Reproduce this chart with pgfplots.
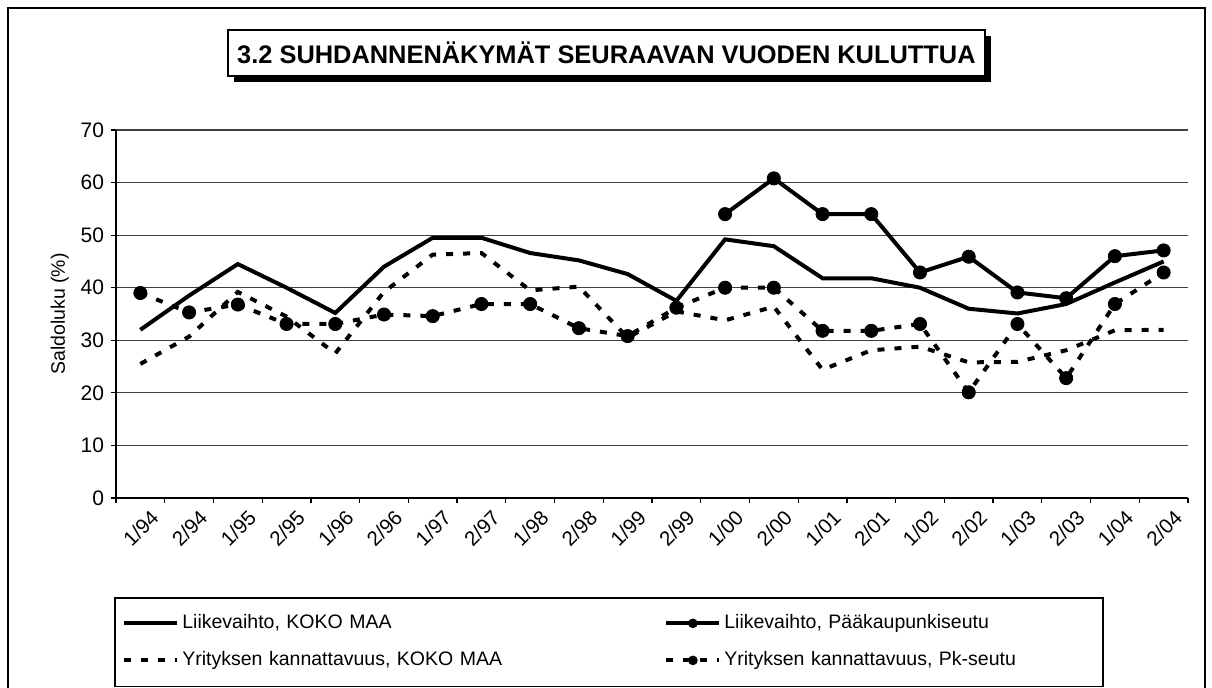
\documentclass[border=0pt]{standalone}
\usepackage{pgfplots}
\pgfplotsset{compat=1.18}
\usepackage{fontspec}
\setmainfont{Liberation Sans}

% 1 px of the reference = 0.5pt
\pgfplotstableread{
x  kokoliike pkliike kokokann pkkann
0  32.0  nan   25.5  39.0
1  38.5  nan   30.7  35.3
2  44.5  nan   39.2  36.8
3  40.0  nan   34.5  33.1
4  35.2  nan   27.5  33.1
5  44.0  nan   39.2  34.9
6  49.5  nan   46.3  34.6
7  49.5  nan   46.6  36.9
8  46.6  nan   39.5  36.9
9  45.2  nan   40.2  32.3
10 42.6  nan   30.5  30.8
11 37.5  nan   35.5  36.2
12 49.2  54.0  33.8  40.0
13 47.9  60.8  36.4  40.0
14 41.8  54.0  24.4  31.8
15 41.8  54.0  28.1  31.8
16 40.0  42.9  28.8  33.1
17 36.0  45.9  25.8  20.1
18 35.1  39.1  25.9  33.1
19 36.9  38.0  28.1  22.8
20 41.0  46.0  31.9  36.9
21 45.0  47.1  32.0  42.9
}\saldo

\begin{document}
\begin{tikzpicture}
\useasboundingbox (0,0) rectangle (606pt,343.5pt);
% outer frame
\draw[line width=0.8pt] (4pt,-5pt) rectangle (602.5pt,339.5pt);
% title box with shadow
\fill[black] (117pt,302.5pt) rectangle (495.5pt,325.5pt);
\draw[fill=white,line width=0.6pt] (114pt,305.5pt) rectangle (492.5pt,328.5pt);
\node at (303.25pt,317pt) {\fontsize{12.7}{15}\selectfont\bfseries 3.2 SUHDANNENÄKYMÄT SEURAAVAN VUODEN KULUTTUA};
% legend frame
\draw[line width=0.6pt] (57.5pt,44.5pt) rectangle (551.5pt,0.3pt);

\begin{axis}[
  at={(58pt,94.5pt)}, anchor=south west,
  scale only axis, width=536pt, height=184pt,
  font=\fontsize{9.75}{11}\selectfont,
  /pgf/number format/assume math mode=true,
  xmin=-0.5, xmax=21.5, ymin=0, ymax=70,
  ytick={0,10,...,70},
  ymajorgrids, grid style={line width=0.6pt, black!75},
  axis x line*=bottom, axis y line*=left,
  axis line style={line width=0.7pt, -},
  tick align=outside, major tick length=2.5pt, minor tick length=2.5pt,
  tick style={line width=0.6pt, black},
  xtick={0,1,...,21},
  xticklabels={1/94,2/94,1/95,2/95,1/96,2/96,1/97,2/97,1/98,2/98,1/99,2/99,1/00,2/00,1/01,2/01,1/02,2/02,1/03,2/03,1/04,2/04},
  minor xtick={-0.5,0.5,...,21.5},
  major x tick style={draw=none},
  yticklabel style={font=\fontsize{10.5}{12}\selectfont},
  xticklabel style={font=\fontsize{10.25}{12}\selectfont, rotate=45, anchor=north east, inner sep=1pt, yshift=-4pt, xshift=2.5pt},
  ylabel={Saldoluku (\%)},
  ylabel style={yshift=-1pt},
  unbounded coords=jump,
  legend columns=2,
  legend style={draw=none, fill=none, inner sep=0pt, at={(0.0056,-0.3043)}, anchor=north west,
    nodes={text width=239.5pt, inner xsep=1.5pt, inner ysep=2pt, text height=7pt, text depth=2pt, anchor=west},
    row sep=5.5pt, font=\fontsize{9.75}{11}\selectfont},
  legend cell align=left,
  legend image code/.code={\draw[mark repeat=2,mark phase=2,#1,mark size=2.2pt] plot coordinates {(0pt,0pt) (13.25pt,0pt) (26.5pt,0pt)};},
]
\addplot[black, line width=2pt, no markers] table[x=x, y=kokoliike] {\saldo};
\addlegendentry{Liikevaihto, KOKO MAA}
\addplot[black, line width=2pt, mark=*, mark size=3.3pt, mark options={solid, line width=0.4pt}] table[x=x, y=pkliike] {\saldo};
\addlegendentry{Liikevaihto, Pääkaupunkiseutu}
\addplot[black, line width=2pt, no markers, dash pattern=on 3.5pt off 5pt] table[x=x, y=kokokann] {\saldo};
\addlegendentry{Yrityksen kannattavuus, KOKO MAA}
\addplot[black, line width=2pt, mark=*, mark size=3.3pt, mark options={solid, line width=0.4pt}, dash pattern=on 3.5pt off 5pt] table[x=x, y=pkkann] {\saldo};
\addlegendentry{Yrityksen kannattavuus, Pk-seutu}
\end{axis}
\end{tikzpicture}
\end{document}
